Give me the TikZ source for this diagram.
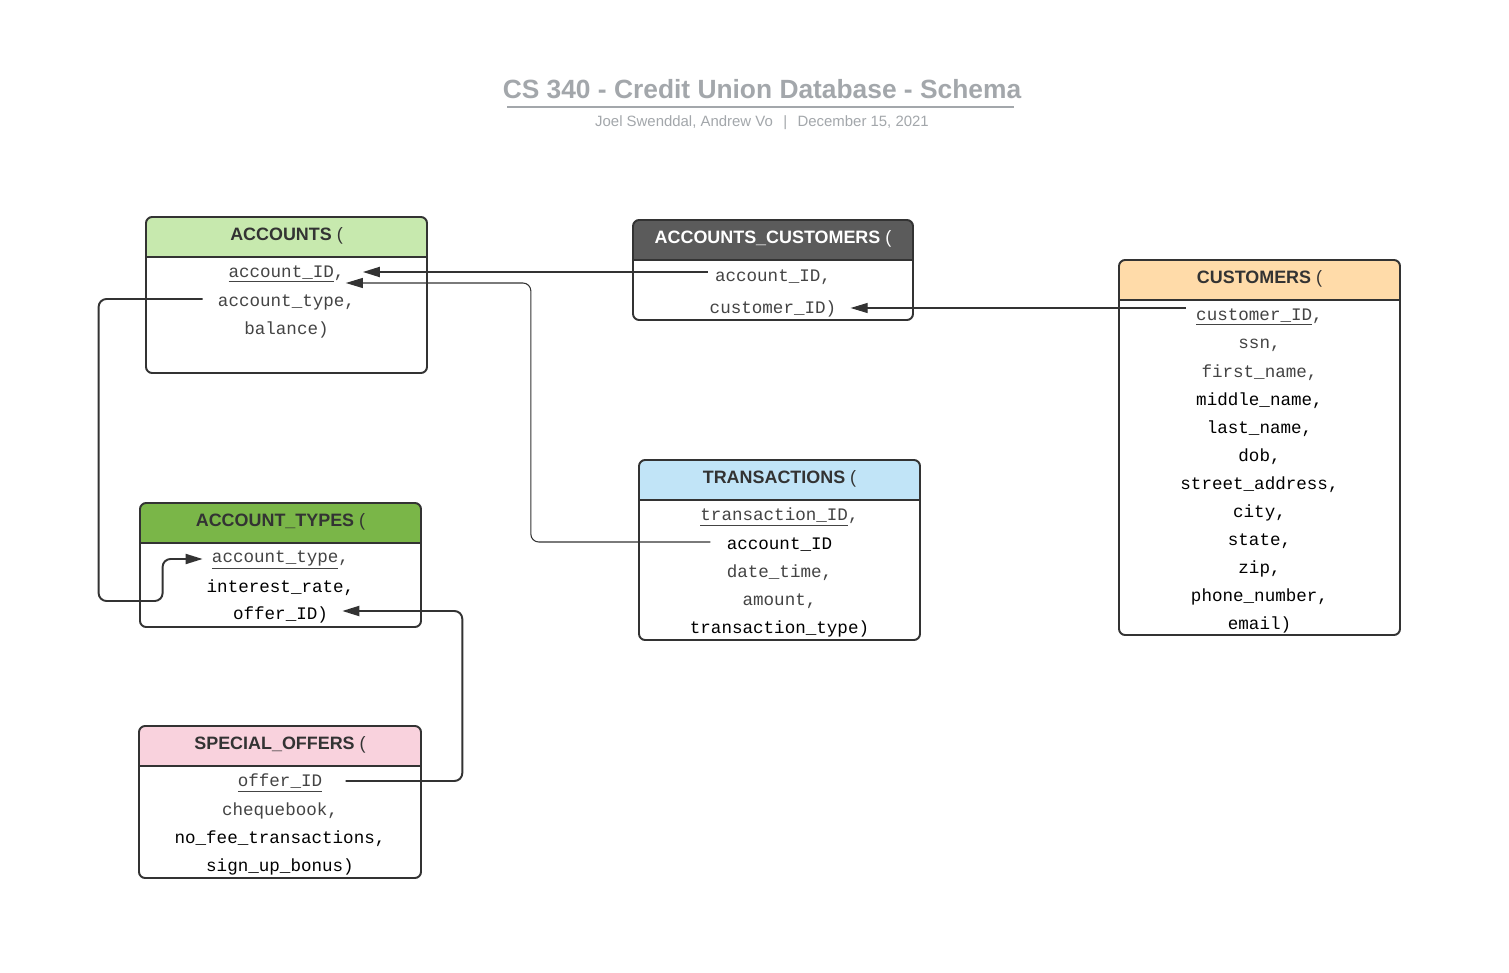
\documentclass[tikz,border=0pt]{standalone}
\usepackage{fontspec}
\setmainfont{Liberation Sans}
\setmonofont{Liberation Mono}
\usetikzlibrary{arrows.meta,calc}

\definecolor{titlegray}{HTML}{A3A7AB}
\definecolor{linegray}{HTML}{333333}
\definecolor{accgreen}{HTML}{C7E9AE}
\definecolor{typegreen}{HTML}{7AB648}
\definecolor{linkgray}{HTML}{5B5B5B}
\definecolor{custorange}{HTML}{FFDBA9}
\definecolor{transblue}{HTML}{C1E4F7}
\definecolor{offerpink}{HTML}{F9D2DD}
\definecolor{softtext}{HTML}{444444}

\tikzset{
  tablebox/.style={draw=linegray, line width=1.1pt, rounded corners=3.5pt},
  headline/.style={draw=linegray, line width=1.1pt},
  headtext/.style={font=\fontsize{10.2}{12}\selectfont\bfseries, text=linegray},
  field/.style={font=\fontsize{10}{12}\selectfont\ttfamily, inner sep=0pt, text=black, yshift=-0.06cm},
  softfield/.style={field, text=softtext},
  fkey/.style={draw=linegray, line width=1.1pt, rounded corners=4.5pt, -{Triangle[length=0.34cm, width=0.2cm]}},
  fkeythin/.style={fkey, line width=0.6pt},
}

\begin{document}
\begin{tikzpicture}[x=0.02cm, y=-0.02cm]
\fill[white] (0,0) rectangle (1509,973);
\useasboundingbox (0,0) rectangle (1509,973);

% Title
\node[font=\fontsize{15}{18}\selectfont\bfseries, text=titlegray] (title) at (762,89) {CS 340 - Credit Union Database - Schema};
\draw[titlegray, line width=1.1pt] (507,107) -- (1014,107);
\node[font=\fontsize{8.5}{10}\selectfont, text=titlegray] (subtitle) at (762,123) {Joel Swenddal, Andrew Vo\hspace{0.7em}|\hspace{0.7em}December 15, 2021};

% Accounts
\fill[accgreen, rounded corners=3.5pt] (146,217) rectangle (427,257);
\fill[accgreen] (146,240) rectangle (427,257);
\draw[tablebox] (146,217) rectangle (427,373);
\draw[headline] (146,257) -- (427,257);
\node[headtext] (acc-head) at (286.5,236) {ACCOUNTS {\mdseries(}};
\node[softfield] (acc-id) at (286.5,271) {\underline{account\_ID},};
\node[softfield] (acc-type) at (286.5,299) {account\_type,};
\node[softfield] (acc-bal) at (286.5,327) {balance)};

% Accounts_Customers
\fill[linkgray, rounded corners=3.5pt] (633,220) rectangle (913,260);
\fill[linkgray] (633,243) rectangle (913,260);
\draw[tablebox] (633,220) rectangle (913,320);
\draw[headline] (633,260) -- (913,260);
\node[headtext, text=white] (ac-head) at (773,239) {ACCOUNTS\_CUSTOMERS {\mdseries(}};
\node[softfield] (ac-acc) at (773,274) {account\_ID,};
\node[softfield] (ac-cust) at (773,306) {customer\_ID)};

% Customers
\fill[custorange, rounded corners=3.5pt] (1119,260) rectangle (1400,300);
\fill[custorange] (1119,283) rectangle (1400,300);
\draw[tablebox] (1119,260) rectangle (1400,635);
\draw[headline] (1119,300) -- (1400,300);
\node[headtext] (cu-head) at (1259.5,279) {CUSTOMERS {\mdseries(}};
\node[softfield] (cu-id) at (1259.5,314) {\underline{customer\_ID},};
\node[softfield] (cu-ssn) at (1259.5,342) {ssn,};
\node[softfield] (cu-first) at (1259.5,370) {first\_name,};
\node[field] (cu-middle) at (1259.5,398) {middle\_name,};
\node[field] (cu-last) at (1259.5,426) {last\_name,};
\node[field] (cu-dob) at (1259.5,454) {dob,};
\node[field] (cu-street) at (1259.5,482) {street\_address,};
\node[field] (cu-city) at (1259.5,510) {city,};
\node[field] (cu-state) at (1259.5,538) {state,};
\node[field] (cu-zip) at (1259.5,566) {zip,};
\node[field] (cu-phone) at (1259.5,594) {phone\_number,};
\node[field] (cu-email) at (1259.5,622) {email)};

% Transactions
\fill[transblue, rounded corners=3.5pt] (639,460) rectangle (920,500);
\fill[transblue] (639,483) rectangle (920,500);
\draw[tablebox] (639,460) rectangle (920,640);
\draw[headline] (639,500) -- (920,500);
\node[headtext] (tr-head) at (779.5,479) {TRANSACTIONS {\mdseries(}};
\node[softfield] (tr-id) at (779.5,514) {\underline{transaction\_ID},};
\node[field] (tr-acc) at (779.5,542) {account\_ID};
\node[softfield] (tr-time) at (779.5,570) {date\_time,};
\node[softfield] (tr-amount) at (779.5,598) {amount,};
\node[field] (tr-type) at (779.5,626) {transaction\_type)};

% Account_Types
\fill[typegreen, rounded corners=3.5pt] (140,503) rectangle (421,543);
\fill[typegreen] (140,526) rectangle (421,543);
\draw[tablebox] (140,503) rectangle (421,627);
\draw[headline] (140,543) -- (421,543);
\node[headtext] (at-head) at (280.5,522) {ACCOUNT\_TYPES {\mdseries(}};
\node[softfield] (at-type) at (280.5,557) {\underline{account\_type},};
\node[field] (at-rate) at (280.5,585) {interest\_rate,};
\node[field] (at-offer) at (280.5,612) {offer\_ID)};

% Special_Offers
\fill[offerpink, rounded corners=3.5pt] (139,726) rectangle (421,766);
\fill[offerpink] (139,749) rectangle (421,766);
\draw[tablebox] (139,726) rectangle (421,878);
\draw[headline] (139,766) -- (421,766);
\node[headtext] (so-head) at (280,745) {SPECIAL\_OFFERS {\mdseries(}};
\node[softfield] (so-offer) at (280,780) {\underline{offer\_ID}};
\node[softfield] (so-cheque) at (280,808) {chequebook,};
\node[field] (so-fee) at (280,836) {no\_fee\_transactions,};
\node[field] (so-bonus) at (280,864) {sign\_up\_bonus)};

% Foreign keys
\draw[fkey] ($(ac-acc.west)+(-7,-5)$) -- ($(acc-id.east |- ac-acc.west)+(18,-5)$);
\draw[fkeythin] ($(tr-acc.west)+(-16,-3)$) -| ($(acc-id.east)+(186,9)$) -- ($(acc-id.east)+(1,9)$);
\draw[fkey] ($(acc-type.west)+(-15,-3)$) -| ($(at-type.west)+(-113,41)$) -| ($(at-type.west)+(-49,-1)$) -- ($(at-type.west)+(-9,-1)$);
\draw[fkey] ($(so-offer.east)+(23,-2)$) -| ($(at-offer.east)+(134,-4)$) -- ($(at-offer.east)+(14,-4)$);
\draw[fkeythin] ($(cu-id.west |- ac-cust.east)+(-10,-1)$) -- ($(ac-cust.east)+(14,-1)$);
\end{tikzpicture}
\end{document}
